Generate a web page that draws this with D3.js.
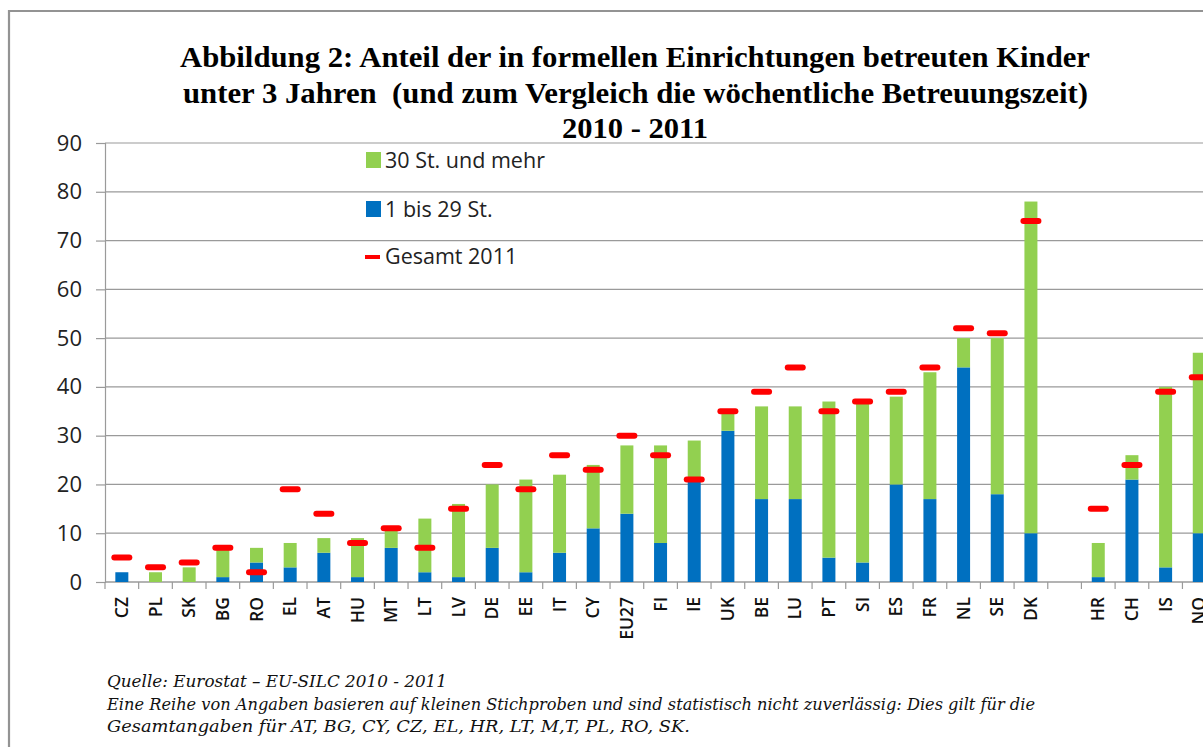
<!DOCTYPE html>
<html>
<head>
<meta charset="utf-8">
<script src="https://cdn.jsdelivr.net/npm/d3@7"></script>
<style>
  body { margin: 0; background: #fff; }
  svg { display: block; }
</style>
</head>
<body>
<div id="chart"></div>
<script>
const countries = ["CZ", "PL", "SK", "BG", "RO", "EL", "AT", "HU", "MT", "LT", "LV", "DE", "EE", "IT", "CY", "EU27",
  "FI", "IE", "UK", "BE", "LU", "PT", "SI", "ES", "FR", "NL", "SE", "DK", "", "HR", "CH", "IS", "NO"];
// 1 bis 29 Stunden
const shortHours = [2, 0, 0, 1, 4, 3, 6, 1, 7, 2, 1, 7, 2, 6, 11, 14,
  8, 21, 31, 17, 17, 5, 4, 20, 17, 44, 18, 10, null, 1, 21, 3, 10];
// 30 Stunden und mehr
const longHours = [0, 2, 3, 6, 3, 5, 3, 8, 4, 11, 15, 13, 19, 16, 13, 14,
  20, 8, 4, 19, 19, 32, 33, 18, 26, 6, 32, 68, null, 7, 5, 37, 37];
// Gesamt 2011
const total2011 = [5, 3, 4, 7, 2, 19, 14, 8, 11, 7, 15, 24, 19, 26, 23, 30,
  26, 21, 35, 39, 44, 35, 37, 39, 44, 52, 51, 74, null, 15, 24, 39, 42];
const yTicks = [0, 10, 20, 30, 40, 50, 60, 70, 80, 90];

const titleLines = [
  "Abbildung 2: Anteil der in formellen Einrichtungen betreuten Kinder",
  "unter 3 Jahren  (und zum Vergleich die wöchentliche Betreuungszeit)",
  "2010 - 2011"
];
const noteLines = [
  "Quelle: Eurostat – EU-SILC 2010 - 2011",
  "Eine Reihe von Angaben basieren auf kleinen Stichproben und sind statistisch nicht zuverlässig: Dies gilt für die",
  "Gesamtangaben für AT, BG, CY, CZ, EL, HR, LT, M,T, PL, RO, SK."
];

const width = 1203;
const height = 747;
const left = 105;
const step = 33.67;
const green = "#92D050";
const blue = "#0070C0";
const red = "#FF0000";
const grid = "#9a9a9a";

const rows = countries.map((c, i) => ({
  key: i + "|" + c,
  name: c,
  short: shortHours[i],
  long: longHours[i],
  total: total2011[i]
}));

const svg = d3
  .select("#chart")
  .append("svg")
  .attr("width", width)
  .attr("height", height);

// outer frame
svg.append("path")
  .attr("d", `M9,${height + 5}V11H${width + 5}`)
  .attr("fill", "none")
  .attr("stroke", "#939393")
  .attr("stroke-width", 2.2);

const xScale = d3
  .scaleBand()
  .domain(rows.map(d => d.key))
  .range([left, left + rows.length * step]);

const yScale = d3.scaleLinear().domain([0, 90]).range([582, 143]);

// gridlines
svg.append("g")
  .selectAll("line")
  .data(yTicks.slice(1))
  .enter()
  .append("line")
  .attr("x1", left)
  .attr("x2", width + 20)
  .attr("y1", d => yScale(d))
  .attr("y2", d => yScale(d))
  .attr("stroke", grid)
  .attr("stroke-width", 1.2);

const yAxis = d3.axisLeft(yScale).tickValues(yTicks).tickSize(9).tickPadding(14);
const yg = svg.append("g").attr("transform", `translate(${left},0)`).call(yAxis);
yg.select(".domain").attr("stroke", grid).attr("stroke-width", 1.2);
yg.selectAll(".tick line").attr("stroke", grid).attr("stroke-width", 1.2);
yg.selectAll(".tick text")
  .attr("font-family", "'Open Sans', sans-serif")
  .attr("font-size", 22)
  .attr("fill", "#222");

// x axis with ticks at band edges
svg.append("line")
  .attr("x1", left).attr("x2", width + 20)
  .attr("y1", yScale(0)).attr("y2", yScale(0))
  .attr("stroke", grid).attr("stroke-width", 1.4);

svg.append("g")
  .selectAll("line")
  .data(rows)
  .enter()
  .append("line")
  .attr("x1", d => xScale(d.key))
  .attr("x2", d => xScale(d.key))
  .attr("y1", yScale(0))
  .attr("y2", yScale(0) + 7)
  .attr("stroke", grid)
  .attr("stroke-width", 1.2);

svg.append("g")
  .selectAll("text")
  .data(rows.filter(d => d.name !== ""))
  .enter()
  .append("text")
  .attr("transform", d => `translate(${xScale(d.key) + xScale.bandwidth() / 2 + 6},597) rotate(-90)`)
  .attr("text-anchor", "end")
  .attr("font-family", "'Open Sans', sans-serif")
  .attr("font-size", 17.5)
  .attr("font-weight", 600)
  .attr("fill", "#111")
  .text(d => d.name);

// stacked bars
const stack = d3.stack().keys(["short", "long"]);
const series = stack(rows.filter(d => d.short !== null));
const barW = 13;

svg.append("g")
  .selectAll("g")
  .data(series)
  .enter()
  .append("g")
  .attr("fill", s => (s.key === "short" ? blue : green))
  .selectAll("rect")
  .data(s => s)
  .enter()
  .append("rect")
  .attr("x", d => xScale(d.data.key) + xScale.bandwidth() / 2 - barW / 2)
  .attr("width", barW)
  .attr("y", d => yScale(d[1]))
  .attr("height", d => yScale(d[0]) - yScale(d[1]));

// Gesamt 2011 markers
svg.append("g")
  .selectAll("rect")
  .data(rows.filter(d => d.total !== null))
  .enter()
  .append("rect")
  .attr("x", d => xScale(d.key) + xScale.bandwidth() / 2 - 10.5)
  .attr("y", d => yScale(d.total) - 3)
  .attr("width", 21)
  .attr("height", 6)
  .attr("rx", 3)
  .attr("fill", red);

// legend
const legend = svg.append("g").attr("font-family", "'Open Sans', sans-serif").attr("font-size", 21.5);
const legendItems = [
  { label: "30 St. und mehr", color: green, y: 168 },
  { label: "1 bis 29 St.", color: blue, y: 217 },
  { label: "Gesamt 2011", color: red, y: 264 }
];
legendItems.forEach((item, i) => {
  if (i < 2) {
    legend.append("rect")
      .attr("x", 366).attr("y", item.y - 16)
      .attr("width", 15).attr("height", 16)
      .attr("fill", item.color);
  } else {
    legend.append("rect")
      .attr("x", 365).attr("y", item.y - 9)
      .attr("width", 15).attr("height", 4)
      .attr("fill", item.color);
  }
  legend.append("text")
    .attr("x", 385)
    .attr("y", item.y)
    .attr("fill", "#222")
    .text(item.label);
});

// title
const titleSpec = [
  { y: 67, x: 180, w: 910 },
  { y: 103, x: 183, w: 905 },
  { y: 138, x: 562, w: 146 }
];
svg.append("g")
  .selectAll("text")
  .data(titleLines)
  .enter()
  .append("text")
  .attr("x", (d, i) => titleSpec[i].x)
  .attr("y", (d, i) => titleSpec[i].y)
  .attr("textLength", (d, i) => titleSpec[i].w)
  .attr("lengthAdjust", "spacingAndGlyphs")
  .attr("font-family", "'Liberation Serif', 'Times New Roman', serif")
  .attr("font-weight", "bold")
  .attr("font-size", 30)
  .attr("fill", "#000")
  .style("white-space", "pre")
  .text(d => d);

// source note
const noteWidths = [340, 928, 583];
svg.append("g")
  .selectAll("text")
  .data(noteLines)
  .enter()
  .append("text")
  .attr("x", 107)
  .attr("y", (d, i) => 687 + i * 22.5)
  .attr("textLength", (d, i) => noteWidths[i])
  .attr("lengthAdjust", "spacingAndGlyphs")
  .attr("font-family", "'DejaVu Serif', serif")
  .attr("font-style", "italic")
  .attr("font-size", 16)
  .attr("fill", "#111")
  .text(d => d);
</script>
</body>
</html>
